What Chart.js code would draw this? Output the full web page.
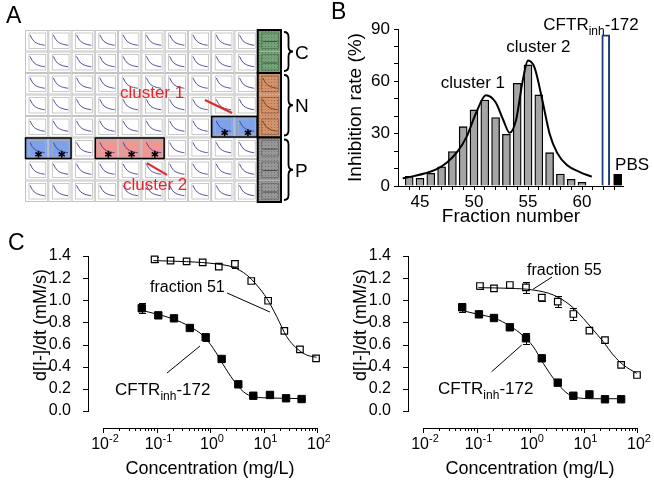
<!DOCTYPE html>
<html>
<head>
<meta charset="utf-8">
<title>Fraction screening</title>
<script src="https://cdn.jsdelivr.net/npm/chart.js@4.4.1/dist/chart.umd.min.js"></script>
<style>
  html, body { margin: 0; padding: 0; background: #fff; }
  #figure { position: relative; width: 654px; height: 481px; overflow: hidden; }
  #figure canvas { position: absolute; }
</style>
</head>
<body>
<div id="figure">
  <canvas id="plateChart" width="330" height="215" style="left:0;top:0"></canvas>
  <canvas id="fractionChart" width="324" height="226" style="left:330px;top:0"></canvas>
  <canvas id="dose51Chart" width="330" height="256" style="left:0;top:225px"></canvas>
  <canvas id="dose55Chart" width="334" height="256" style="left:320px;top:225px"></canvas>
</div>
<script>
// ---- panel A: plate layout ----
const plateRows = 8;
const plateCols = 10;
const controlGroups = ['C', 'N', 'P'];
const controlGroupRows = [[0, 2], [2, 5], [5, 8]];
const cluster1Wells = [[4, 8], [4, 9], [5, 0], [5, 1]];   // [row, col]
const cluster2Wells = [[5, 3], [5, 4], [5, 5]];
const wellTrace = [0.12, 0.38, 0.55, 0.64, 0.70, 0.74, 0.77, 0.79];
const flatTrace = [0.55, 0.55];

// ---- panel B: inhibition per fraction ----
const fractions = [44, 45, 46, 47, 48, 49, 50, 51, 52, 53, 54, 55, 56, 57, 58, 59, 60];
const inhibition = [5.5, 4.4, 7.3, 11, 19.7, 34, 43.6, 49.3, 39.2, 29.6, 58.9, 69.4, 52.2, 19.1, 6.9, 3.8, 2.1];
const controls = ['CFTRinh-172', 'PBS'];
const controlX = [62.2, 63.3];
const controlInhibition = [86.6, 6.7];
const fitFraction = [43.4, 44.5, 45.5, 46.5, 47.5, 48.5, 49.3, 50.2, 51.1, 52.0, 52.7, 53.3, 53.9, 54.5, 55.0, 55.6, 56.3, 57.0, 57.7, 58.6, 59.8, 60.9];
const fitInhibition = [4.5, 5.8, 7.3, 9.5, 13.5, 20, 28, 42, 52, 48, 38, 30.5, 38, 60, 72, 68, 50, 30, 19, 12, 8, 5.3];
const inhibitionTicks = [0, 30, 60, 90];
const inhibitionAllTicks = [0, 10, 20, 30, 40, 50, 60, 70, 80, 90];
const fractionTicks = [45, 50, 55, 60];
const fractionAllTicks = [44, 45, 46, 47, 48, 49, 50, 51, 52, 53, 54, 55, 56, 57, 58, 59, 60, 61, 62, 63];

// ---- panel C: dose response ----
const conc51 = [0.092, 0.183, 0.365, 0.73, 1.46, 2.92, 5.9, 12.2, 24.5, 48, 96];
const rate51 = [1.37, 1.358, 1.352, 1.343, 1.304, 1.328, 1.174, 0.996, 0.723, 0.557, 0.476];
const err51 = [0.02, 0, 0, 0, 0, 0.04, 0.02, 0, 0, 0, 0];
const fit51Conc = [0.087, 0.366, 1.33, 2.73, 4.85, 7.46, 11.5, 17.7, 27.2, 41.7, 64.1, 98];
const fit51Rate = [1.358, 1.349, 1.328, 1.298, 1.229, 1.138, 1.018, 0.852, 0.671, 0.566, 0.506, 0.485];

const concInhA = [0.053, 0.108, 0.212, 0.42, 0.83, 1.65, 3.38, 6.45, 13.2, 26.4, 51.6];
const rateInhA = [0.928, 0.864, 0.837, 0.750, 0.666, 0.470, 0.241, 0.138, 0.145, 0.115, 0.108];
const errInhA = [0.045, 0, 0, 0, 0.03, 0, 0, 0, 0, 0, 0];
const fitInhAConc = [0.049, 0.1, 0.206, 0.42, 0.75, 1.15, 1.78, 2.73, 4.2, 6.46, 15.2, 55];
const fitInhARate = [0.912, 0.876, 0.831, 0.762, 0.678, 0.566, 0.416, 0.280, 0.174, 0.129, 0.117, 0.111];

const conc55 = [0.116, 0.212, 0.42, 0.84, 1.66, 3.3, 6.46, 12.9, 25.2, 50.5, 100];
const rate55 = [1.129, 1.108, 1.138, 1.117, 1.024, 0.988, 0.876, 0.726, 0.641, 0.416, 0.325];
const err55 = [0.03, 0, 0, 0.05, 0.03, 0.05, 0.05, 0, 0, 0.02, 0];
const fit55Conc = [0.108, 0.42, 1.15, 2.73, 5.6, 9.9, 15.2, 23.4, 36, 55.5, 98.6];
const fit55Rate = [1.114, 1.108, 1.093, 1.048, 0.957, 0.837, 0.732, 0.626, 0.506, 0.416, 0.340];

const concInhB = [0.054, 0.111, 0.212, 0.42, 0.84, 1.66, 3.3, 6.46, 12.9, 25.2, 50.5];
const rateInhB = [0.937, 0.873, 0.840, 0.756, 0.657, 0.476, 0.256, 0.138, 0.150, 0.106, 0.106];
const errInhB = [0.04, 0, 0, 0, 0.05, 0, 0, 0, 0, 0, 0];
const fitInhBConc = [0.049, 0.108, 0.222, 0.42, 0.75, 1.15, 1.77, 2.73, 4.2, 6.46, 15.2, 55.5];
const fitInhBRate = [0.912, 0.873, 0.837, 0.768, 0.678, 0.581, 0.431, 0.295, 0.19, 0.129, 0.111, 0.111];

const rateTicks = [0, 0.2, 0.4, 0.6, 0.8, 1.0, 1.2, 1.4];
const concDecades = [0.01, 0.1, 1, 10, 100];
const concExponents = ['-2', '-1', '0', '1', '2'];

const FONT = '"Liberation Sans", Arial, sans-serif';
const RED = '#e3262b';
Chart.defaults.font.family = FONT;
Chart.defaults.color = '#000';

const pairs = (xs, ys) => xs.map((x, i) => ({ x, y: ys[i] }));

// text with sub/superscript pieces: parts = [[text, ''|'sub'|'sup'], ...]
function richText(ctx, parts, x, y, size, align, color) {
  const small = Math.round(size * 0.68);
  let total = 0;
  const ws = parts.map(([t, k]) => {
    ctx.font = (k ? small : size) + 'px ' + FONT;
    const w = ctx.measureText(t).width;
    total += w;
    return w;
  });
  let cx = align === 'center' ? x - total / 2 : align === 'right' ? x - total : x;
  ctx.fillStyle = color || '#000';
  ctx.textAlign = 'left';
  ctx.textBaseline = 'alphabetic';
  parts.forEach(([t, k], i) => {
    ctx.font = (k ? small : size) + 'px ' + FONT;
    const dy = k === 'sub' ? size * 0.28 : k === 'sup' ? -size * 0.42 : 0;
    ctx.fillText(t, cx, y + dy);
    cx += ws[i];
  });
}

// detached axis lines, tick marks and x labels for the dose panels
function axesPlugin(o) {
  return {
    id: 'axes',
    afterDraw(chart) {
      const { ctx, chartArea } = chart;
      const xs = chart.scales.x, ys = chart.scales.y;
      const yb = Math.round(chartArea.bottom), xl = Math.round(chartArea.left);
      ctx.save();
      ctx.fillStyle = '#000';
      if (o.lines !== false) {
        const x0 = Math.round(xs.getPixelForValue(o.xFrom)), x1 = Math.round(xs.getPixelForValue(o.xTo));
        ctx.fillRect(x0, yb, x1 - x0 + 1, 1);
        o.xMajor.forEach(v => ctx.fillRect(Math.round(xs.getPixelForValue(v)), yb, 1, o.majorLen));
        o.xMinor.forEach(v => ctx.fillRect(Math.round(xs.getPixelForValue(v)), yb, 1, o.minorLen));
        const y0 = Math.round(ys.getPixelForValue(o.yFrom)), y1 = Math.round(ys.getPixelForValue(o.yTo));
        ctx.fillRect(xl, y1, 1, y0 - y1 + 1);
        o.yMajor.forEach(v => ctx.fillRect(xl - o.majorLen, Math.round(ys.getPixelForValue(v)), o.majorLen, 1));
      }
      o.xLabels.forEach((v, i) => {
        const parts = o.xExp ? [['10', ''], [o.xExp[i], 'sup']] : [[String(v), '']];
        richText(ctx, parts, xs.getPixelForValue(v) + (o.xExp ? 2 : 0), yb + o.labelDrop, o.labelSize, 'center');
      });
      ctx.restore();
    }
  };
}

function errorBarsPlugin(sets) {
  return {
    id: 'errorBars',
    beforeDatasetsDraw(chart) {
      const { ctx } = chart;
      const xs = chart.scales.x, ys = chart.scales.y;
      ctx.save();
      ctx.fillStyle = '#000';
      sets.forEach(set => set.x.forEach((xv, i) => {
        const e = set.err[i];
        if (!e) return;
        const px = Math.round(xs.getPixelForValue(xv));
        const top = Math.round(ys.getPixelForValue(set.y[i] + e)), bot = Math.round(ys.getPixelForValue(set.y[i] - e));
        ctx.fillRect(px, top, 1, bot - top);
        ctx.fillRect(px - 3, top, 7, 1);
        ctx.fillRect(px - 3, bot, 7, 1);
      }));
      ctx.restore();
    }
  };
}

// annotations: lines/texts in data coords, titles in pixel coords
function notesPlugin(o) {
  return {
    id: 'notes',
    afterDraw(chart) {
      const { ctx } = chart;
      const xs = chart.scales.x, ys = chart.scales.y;
      ctx.save();
      (o.lines || []).forEach(l => {
        ctx.strokeStyle = l.color || '#000';
        ctx.lineWidth = l.width || 1;
        ctx.beginPath();
        ctx.moveTo(xs.getPixelForValue(l.from[0]), ys.getPixelForValue(l.from[1]));
        ctx.lineTo(xs.getPixelForValue(l.to[0]), ys.getPixelForValue(l.to[1]));
        ctx.stroke();
      });
      (o.texts || []).forEach(t => {
        const px = t.px ? t.at[0] : xs.getPixelForValue(t.at[0]);
        const py = t.px ? t.at[1] : ys.getPixelForValue(t.at[1]);
        const parts = typeof t.parts === 'string' ? [[t.parts, '']] : t.parts;
        if (t.rotate) {
          ctx.save();
          ctx.translate(px, py);
          ctx.rotate(-Math.PI / 2);
          richText(ctx, parts, 0, 0, t.size, 'center', t.color);
          ctx.restore();
        } else {
          richText(ctx, parts, px, py, t.size, t.align || 'left', t.color);
        }
      });
      ctx.restore();
    }
  };
}

// ---- panel A drawing ----
function wellPlot(ctx, k, lineColor, frameColor, trace) {
  const fx0 = k.x0 + 4, fx1 = k.x1 - 2.5, fy0 = k.y0 + 3, fy1 = k.y1 - 3;
  ctx.strokeStyle = frameColor;
  ctx.lineWidth = 0.7;
  ctx.strokeRect(fx0, fy0, fx1 - fx0, fy1 - fy0);
  ctx.strokeStyle = lineColor;
  ctx.lineWidth = 0.9;
  ctx.beginPath();
  trace.forEach((t, i) => {
    const px = fx0 + 1 + (fx1 - fx0 - 2) * i / (trace.length - 1);
    const py = fy0 + (fy1 - fy0) * t;
    if (i) ctx.lineTo(px, py); else ctx.moveTo(px, py);
  });
  ctx.stroke();
}

function brace(ctx, x, y1, y2, w) {
  const ym = (y1 + y2) / 2, h = w / 2;
  ctx.beginPath();
  ctx.moveTo(x, y1);
  ctx.quadraticCurveTo(x + h, y1, x + h, y1 + 5);
  ctx.lineTo(x + h, ym - 5);
  ctx.quadraticCurveTo(x + h, ym, x + w, ym);
  ctx.quadraticCurveTo(x + h, ym, x + h, ym + 5);
  ctx.lineTo(x + h, y2 - 5);
  ctx.quadraticCurveTo(x + h, y2, x, y2);
  ctx.stroke();
}

function star(ctx, cx, cy, r) {
  ctx.beginPath();
  for (let i = 0; i < 3; i++) {
    const a = Math.PI / 2 + i * Math.PI / 3;
    ctx.moveTo(cx - r * Math.cos(a), cy - r * Math.sin(a));
    ctx.lineTo(cx + r * Math.cos(a), cy + r * Math.sin(a));
  }
  ctx.stroke();
}

const platePlugin = {
  id: 'plate',
  afterDraw(chart) {
    const { ctx, chartArea: area } = chart;
    const xs = chart.scales.x, ys = chart.scales.y;
    const cell = (r, c) => ({
      x0: xs.getPixelForValue(c), x1: xs.getPixelForValue(c + 1),
      y0: ys.getPixelForValue(r), y1: ys.getPixelForValue(r + 1)
    });
    const fillOf = new Map();
    cluster1Wells.forEach(([r, c]) => fillOf.set(r + ',' + c, '#7ea2ea'));
    cluster2Wells.forEach(([r, c]) => fillOf.set(r + ',' + c, '#f19691'));
    ctx.save();
    for (let r = 0; r < plateRows; r++) {
      for (let c = 0; c < plateCols; c++) {
        const k = cell(r, c);
        ctx.fillStyle = fillOf.get(r + ',' + c) || '#fff';
        ctx.fillRect(k.x0, k.y0, k.x1 - k.x0, k.y1 - k.y0);
        ctx.strokeStyle = '#c4c4c4';
        ctx.lineWidth = 1;
        ctx.strokeRect(k.x0 + 0.5, k.y0 + 0.5, k.x1 - k.x0 - 1, k.y1 - k.y0 - 1);
        wellPlot(ctx, k, '#3d3d99', '#b3b3b3', wellTrace);
      }
    }
    // dotted texture for the control column
    const dot = document.createElement('canvas');
    dot.width = 3; dot.height = 3;
    const dctx = dot.getContext('2d');
    dctx.fillStyle = 'rgba(0,0,0,0.22)';
    dctx.fillRect(1, 1, 1, 1);
    const texture = ctx.createPattern(dot, 'repeat');
    const groupFill = ['#74a176', '#d3926a', '#979797'];
    const groupLine = ['#2f4f32', '#6b3b20', '#3c3c3c'];
    controlGroups.forEach((g, gi) => {
      const [r0, r1] = controlGroupRows[gi];
      for (let r = r0; r < r1; r++) {
        const k = cell(r, plateCols);
        ctx.fillStyle = groupFill[gi];
        ctx.fillRect(k.x0, k.y0, k.x1 - k.x0, k.y1 - k.y0);
        ctx.fillStyle = texture;
        ctx.fillRect(k.x0, k.y0, k.x1 - k.x0, k.y1 - k.y0);
        wellPlot(ctx, k, groupLine[gi], 'rgba(0,0,0,0.35)', gi === 1 ? wellTrace : flatTrace);
      }
      const a = cell(r0, plateCols), b = cell(r1 - 1, plateCols);
      ctx.strokeStyle = '#000';
      ctx.lineWidth = 2;
      ctx.strokeRect(a.x0, a.y0, a.x1 - a.x0, b.y1 - a.y0);
      ctx.lineWidth = 1.8;
      brace(ctx, area.right + 3, a.y0 + 2, b.y1 - 2, 9);
      ctx.fillStyle = '#000';
      ctx.font = '19px ' + FONT;
      ctx.textAlign = 'left';
      ctx.textBaseline = 'middle';
      ctx.fillText(g, area.right + 14, (a.y0 + b.y1) / 2 + 2);
    });
    // outlines and stars for the two clusters
    [cluster1Wells, cluster2Wells].forEach(wells => {
      const byRow = {};
      wells.forEach(([r, c]) => { (byRow[r] = byRow[r] || []).push(c); });
      Object.keys(byRow).forEach(r => {
        const cols = byRow[r];
        const a = cell(+r, Math.min(...cols)), b = cell(+r, Math.max(...cols));
        ctx.strokeStyle = '#000';
        ctx.lineWidth = 1.5;
        ctx.strokeRect(a.x0 + 0.5, a.y0 + 0.5, b.x1 - a.x0 - 1, a.y1 - a.y0 - 1);
      });
      wells.forEach(([r, c]) => {
        const k = cell(r, c);
        ctx.lineWidth = 1.6;
        star(ctx, k.x0 + (k.x1 - k.x0) * 0.58, k.y0 + (k.y1 - k.y0) * 0.78, 3.6);
      });
    });
    // cluster labels
    ctx.strokeStyle = RED;
    ctx.lineWidth = 2.2;
    [[[7.73, 3.26], [8.9, 3.86]], [[5.24, 6.19], [6.10, 6.74]]].forEach(([p, q]) => {
      ctx.beginPath();
      ctx.moveTo(xs.getPixelForValue(p[0]), ys.getPixelForValue(p[1]));
      ctx.lineTo(xs.getPixelForValue(q[0]), ys.getPixelForValue(q[1]));
      ctx.stroke();
    });
    richText(ctx, [['cluster 1', '']], xs.getPixelForValue(4.08), ys.getPixelForValue(3.16), 17, 'left', RED);
    richText(ctx, [['cluster 2', '']], xs.getPixelForValue(4.21), ys.getPixelForValue(7.44), 17, 'left', RED);
    richText(ctx, [['A', '']], 6, 23, 23, 'left');
    ctx.restore();
  }
};

new Chart(document.getElementById('plateChart'), {
  type: 'scatter',
  data: { datasets: [{ data: [] }] },
  options: {
    responsive: false,
    animation: false,
    events: [],
    layout: { padding: { left: 25, right: 49, top: 30, bottom: 13 } },
    plugins: { legend: { display: false }, tooltip: { enabled: false } },
    scales: {
      x: { type: 'linear', min: 0, max: plateCols + 1, display: false },
      y: { type: 'linear', min: 0, max: plateRows, reverse: true, display: false }
    }
  },
  plugins: [platePlugin]
});

// ---- panel B ----
new Chart(document.getElementById('fractionChart'), {
  type: 'bar',
  data: {
    datasets: [
      {
        type: 'line', data: pairs(fitFraction, fitInhibition), borderColor: '#000', borderWidth: 2,
        pointRadius: 0, cubicInterpolationMode: 'monotone', fill: false, order: 0
      },
      {
        label: 'fractions', data: pairs(fractions, inhibition), backgroundColor: '#a5a5a5',
        borderColor: '#000', borderWidth: 1.3, barThickness: 8, grouped: false, order: 1
      },
      {
        label: controls[0], data: [{ x: controlX[0], y: controlInhibition[0] }], backgroundColor: '#fff',
        borderColor: '#1a3a7c', borderWidth: 2, barThickness: 8, grouped: false, order: 1
      },
      {
        label: controls[1], data: [{ x: controlX[1], y: controlInhibition[1] }], backgroundColor: '#000',
        borderColor: '#000', borderWidth: 1, barThickness: 8, grouped: false, order: 1
      }
    ]
  },
  options: {
    responsive: false,
    animation: false,
    events: [],
    layout: { padding: { left: 0, right: 31, top: 29, bottom: 0 } },
    plugins: { legend: { display: false }, tooltip: { enabled: false } },
    scales: {
      x: {
        type: 'linear', min: 42.963, max: 63.796, offset: false,
        border: { display: true, color: '#000', width: 1 },
        grid: { display: true, drawOnChartArea: false, color: '#000', tickLength: 4, tickColor: '#000', offset: false },
        ticks: { display: false },
        afterBuildTicks: s => { s.ticks = fractionAllTicks.map(v => ({ value: v })); },
        afterFit: s => { s.height = 40; }
      },
      y: {
        type: 'linear', min: 0, max: 90,
        border: { display: true, color: '#000', width: 1 },
        grid: { display: true, drawOnChartArea: false, color: '#000', tickLength: 4, tickColor: '#000' },
        ticks: {
          font: { size: 17 }, padding: 4, autoSkip: false,
          callback: v => (inhibitionTicks.includes(v) ? String(v) : '')
        },
        afterBuildTicks: s => { s.ticks = inhibitionAllTicks.map(v => ({ value: v })); },
        afterFit: s => { s.width = 68; }
      }
    }
  },
  plugins: [
    axesPlugin({ lines: false, xLabels: fractionTicks, labelSize: 17, labelDrop: 21 }),
    notesPlugin({
      texts: [
        { parts: 'cluster 1', at: [49.9, 56.2], size: 17, align: 'center' },
        { parts: 'cluster 2', at: [55.96, 77.0], size: 17, align: 'center' },
        { parts: [['CFTR', ''], ['inh', 'sub'], ['-172', '']], at: [56.42, 89.4], size: 17 },
        { parts: controls[1], at: [63.06, 9.2], size: 17 },
        { parts: 'B', at: [1, 19], px: true, size: 23 },
        { parts: 'Inhibition rate (%)', at: [30.5, 107.5], px: true, size: 19, rotate: true },
        { parts: 'Fraction number', at: [181, 222], px: true, size: 19, align: 'center' }
      ]
    })
  ]
});

// ---- panel C ----
const logMinor = [];
for (let d = 0.01; d < 99; d *= 10) for (let m = 2; m <= 9; m++) logMinor.push(+(d * m).toPrecision(3));

function doseChart(id, s) {
  const canvas = document.getElementById(id);
  return new Chart(canvas, {
    type: 'scatter',
    data: {
      datasets: [
        { type: 'line', data: pairs(s.fitA[0], s.fitA[1]), borderColor: '#000', borderWidth: 1, pointRadius: 0, cubicInterpolationMode: 'monotone', clip: false },
        { type: 'line', data: pairs(s.fitB[0], s.fitB[1]), borderColor: '#000', borderWidth: 1, pointRadius: 0, cubicInterpolationMode: 'monotone', clip: false },
        { data: pairs(s.concA, s.rateA), pointStyle: 'rect', pointRadius: 4.6, backgroundColor: '#fff', borderColor: '#000', borderWidth: 1.2, clip: false },
        { data: pairs(s.concB, s.rateB), pointStyle: 'rect', pointRadius: 5.2, backgroundColor: '#000', borderColor: '#000', borderWidth: 1, clip: false }
      ]
    },
    options: {
      responsive: false,
      animation: false,
      events: [],
      layout: { padding: { left: 0, right: canvas.width - 317, top: 31, bottom: 0 } },
      plugins: { legend: { display: false }, tooltip: { enabled: false } },
      scales: {
        x: {
          type: 'logarithmic', min: 0.005242, max: 100,
          grid: { display: false }, border: { display: false }, ticks: { display: false },
          afterFit: sc => { sc.height = 53; }
        },
        y: {
          type: 'linear', min: -0.1535, max: 1.4,
          grid: { display: false }, border: { display: false },
          ticks: { font: { size: 16 }, padding: 9, callback: v => v.toFixed(1) },
          afterBuildTicks: sc => { sc.ticks = rateTicks.map(v => ({ value: v })); },
          afterFit: sc => { sc.width = 88; }
        }
      }
    },
    plugins: [
      errorBarsPlugin([{ x: s.concA, y: s.rateA, err: s.errA }, { x: s.concB, y: s.rateB, err: s.errB }]),
      axesPlugin({
        xFrom: 0.01, xTo: 100, xMajor: concDecades, xMinor: logMinor,
        yFrom: 0, yTo: 1.4, yMajor: rateTicks, majorLen: 5, minorLen: 3,
        xLabels: concDecades, xExp: concExponents, labelSize: 16, labelDrop: 21
      }),
      notesPlugin({ lines: s.lines, texts: s.texts })
    ]
  });
}

const cftrLabel = [['CFTR', ''], ['inh', 'sub'], ['-172', '']];
const axisTitles = [
  { parts: 'd[I-]/dt (mM/s)', at: [46, 100], px: true, size: 18, rotate: true },
  { parts: 'Concentration (mg/L)', at: [210, 249], px: true, size: 18, align: 'center' }
];

doseChart('dose51Chart', {
  fitA: [fit51Conc, fit51Rate], fitB: [fitInhAConc, fitInhARate],
  concA: conc51, rateA: rate51, errA: err51,
  concB: concInhA, rateB: rateInhA, errB: errInhA,
  lines: [
    { from: [2.08, 1.066], to: [13.2, 0.894] },
    { from: [0.157, 0.343], to: [0.65, 0.587] }
  ],
  texts: [
    { parts: 'fraction 51', at: [0.0756, 1.075], size: 16 },
    { parts: cftrLabel, at: [0.0168, 0.1445], size: 17 },
    { parts: 'C', at: [8, 25], px: true, size: 23 }
  ].concat(axisTitles)
});

doseChart('dose55Chart', {
  fitA: [fit55Conc, fit55Rate], fitB: [fitInhBConc, fitInhBRate],
  concA: conc55, rateA: rate55, errA: err55,
  concB: concInhB, rateB: rateInhB, errB: errInhB,
  lines: [
    { from: [2.58, 1.21], to: [1.14, 1.10] },
    { from: [0.192, 0.355], to: [0.70, 0.596] }
  ],
  texts: [
    { parts: 'fraction 55', at: [0.879, 1.228], size: 16 },
    { parts: cftrLabel, at: [0.0191, 0.1536], size: 17 }
  ].concat(axisTitles)
});
</script>
</body>
</html>
